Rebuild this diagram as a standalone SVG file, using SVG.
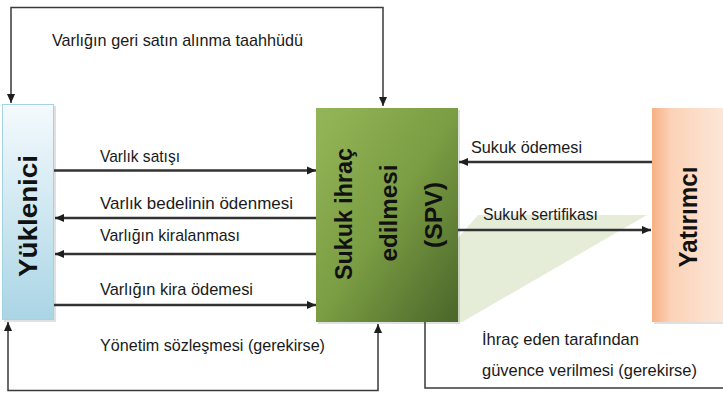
<svg xmlns="http://www.w3.org/2000/svg" width="723" height="393" viewBox="0 0 723 393">
  <style>
    .lbl { font-family: "Liberation Sans", Arial, sans-serif; font-size: 17px; fill: #1a1a1a; }
    .box { font-family: "Liberation Sans", Arial, sans-serif; font-weight: bold; fill: #111; text-anchor: middle; }
    .conn { fill: none; stroke: #333; stroke-width: 2.5; }
    .loop { fill: none; stroke: #3a3a3a; stroke-width: 1.5; }
    .shadow { fill: #000; opacity: 0.12; }
  </style>
  <defs>
    <linearGradient id="gBlue" x1="0" y1="0" x2="0" y2="1">
      <stop offset="0" stop-color="#f4fafd"/>
      <stop offset="1" stop-color="#aad5e5"/>
    </linearGradient>
    <linearGradient id="gGreen" x1="0" y1="0" x2="1" y2="1">
      <stop offset="0" stop-color="#95b658"/>
      <stop offset="0.5" stop-color="#7b9d43"/>
      <stop offset="1" stop-color="#4a662a"/>
    </linearGradient>
    <linearGradient id="gOrange" x1="0" y1="0" x2="1" y2="0">
      <stop offset="0" stop-color="#f7b084"/>
      <stop offset="0.25" stop-color="#fbd2b6"/>
      <stop offset="1" stop-color="#fde8db"/>
    </linearGradient>
    <marker id="ah" viewBox="0 0 10 10" refX="10" refY="5" markerWidth="9" markerHeight="9" markerUnits="userSpaceOnUse" orient="auto-start-reverse">
      <path d="M0,0.5 L10,5 L0,9.5 z" fill="#1e1e1e"/>
    </marker>
  </defs>

  <g id="node-yuklenici">
    <rect class="shadow" x="4" y="106" width="52" height="216"/>
    <rect x="2.5" y="104.5" width="51" height="215" fill="url(#gBlue)" stroke="#a3d2e3" stroke-width="1"/>
    <text class="box" font-size="26" transform="translate(37,216) rotate(-90)" textLength="122" lengthAdjust="spacingAndGlyphs">Yüklenici</text>
  </g>

  <g id="node-spv">
    <polygon points="458,238 478,215 647,215 462,322 458,322" fill="#e5ecd8"/>
    <rect class="shadow" x="318" y="110" width="142" height="214"/>
    <rect x="316" y="108" width="142" height="214" fill="url(#gGreen)"/>
    <text class="box" font-size="24" transform="translate(352,214) rotate(-90)" textLength="132" lengthAdjust="spacingAndGlyphs">Sukuk ihraç</text>
    <text class="box" font-size="24" transform="translate(397,213) rotate(-90)" textLength="97" lengthAdjust="spacingAndGlyphs">edilmesi</text>
    <text class="box" font-size="24" transform="translate(442,215) rotate(-90)" textLength="66" lengthAdjust="spacingAndGlyphs">(SPV)</text>
  </g>

  <g id="node-yatirimci">
    <rect class="shadow" x="654" y="110" width="72" height="214"/>
    <rect x="652" y="108" width="75" height="214" fill="url(#gOrange)"/>
    <text class="box" font-size="25" transform="translate(697,217) rotate(-90)" textLength="101" lengthAdjust="spacingAndGlyphs">Yatırımcı</text>
  </g>

  <g id="connectors">
    <path class="loop" d="M11,103 V7.5 H383 V106" marker-start="url(#ah)" marker-end="url(#ah)"/>
    <path class="loop" d="M8,322 V390.5 H378 V324" marker-start="url(#ah)" marker-end="url(#ah)"/>
    <path class="loop" d="M425,322 V388 H723"/>
    <path class="conn" d="M54,170.5 H316" marker-end="url(#ah)"/>
    <path class="conn" d="M316,218 H55" marker-end="url(#ah)"/>
    <path class="conn" d="M316,254 H55" marker-end="url(#ah)"/>
    <path class="conn" d="M54,305 H316" marker-end="url(#ah)"/>
    <path class="conn" d="M652,162 H459" marker-end="url(#ah)"/>
    <path class="conn" d="M458,230 H651" marker-end="url(#ah)"/>
  </g>

  <g id="labels">
    <text class="lbl" x="52" y="46" textLength="251" lengthAdjust="spacingAndGlyphs">Varlığın geri satın alınma taahhüdü</text>
    <text class="lbl" x="100" y="161.5" textLength="80" lengthAdjust="spacingAndGlyphs">Varlık satışı</text>
    <text class="lbl" x="100" y="209" textLength="193" lengthAdjust="spacingAndGlyphs">Varlık bedelinin ödenmesi</text>
    <text class="lbl" x="100" y="240.5" textLength="140" lengthAdjust="spacingAndGlyphs">Varlığın kiralanması</text>
    <text class="lbl" x="100" y="295" textLength="153" lengthAdjust="spacingAndGlyphs">Varlığın kira ödemesi</text>
    <text class="lbl" x="100" y="351" textLength="225" lengthAdjust="spacingAndGlyphs">Yönetim sözleşmesi (gerekirse)</text>
    <text class="lbl" x="471" y="153" textLength="111" lengthAdjust="spacingAndGlyphs">Sukuk ödemesi</text>
    <text class="lbl" x="483" y="220" textLength="115" lengthAdjust="spacingAndGlyphs">Sukuk sertifikası</text>
    <text class="lbl" x="482" y="345" textLength="157" lengthAdjust="spacingAndGlyphs">İhraç eden tarafından</text>
    <text class="lbl" x="482" y="376" textLength="215" lengthAdjust="spacingAndGlyphs">güvence verilmesi (gerekirse)</text>
  </g>
</svg>
